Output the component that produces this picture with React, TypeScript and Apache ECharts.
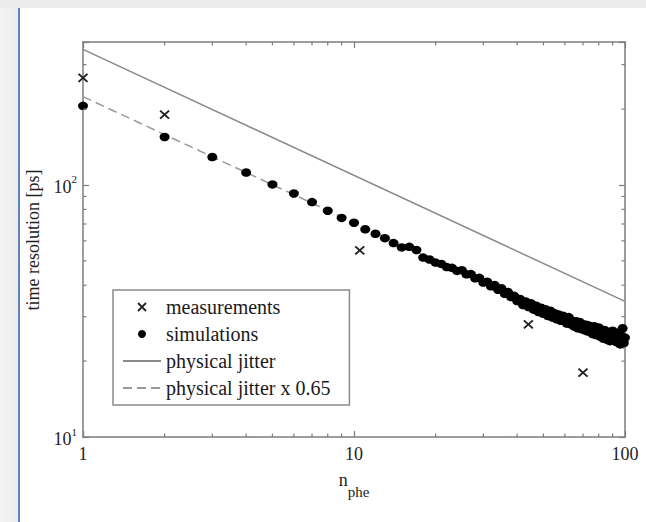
import React, { useEffect, useRef } from "react";
import * as echarts from "echarts";

// ---- data ----
const simN = [
  1, 2, 3, 4, 5, 6, 7, 8, 9, 10, 11, 12, 13, 14, 15, 16, 17, 18, 19, 20,
  21, 22, 23, 24, 25, 26, 27, 28, 29, 30, 31, 32, 33, 34, 35, 36, 37, 38, 39, 40,
  41, 42, 43, 44, 45, 46, 47, 48, 49, 50, 51, 52, 53, 54, 55, 56, 57, 58, 59, 60,
  61, 62, 63, 64, 65, 66, 67, 68, 69, 70, 71, 72, 73, 74, 75, 76, 77, 78, 79, 80,
  81, 82, 83, 84, 85, 86, 87, 88, 89, 90, 91, 92, 93, 94, 95, 96, 97, 98, 99, 100,
];
const simT = [
  206, 155, 129, 112, 100.5, 92.5, 85.5, 79, 74, 70.8, 66.7, 64, 61.5, 58.8, 56.5, 56.8, 55.2, 51.5, 50.6, 49.2,
  48.6, 47.2, 46.9, 45.6, 45.9, 44.2, 44.3, 42.6, 42.8, 41.0, 41.3, 39.6, 40.1, 38.4, 38.9, 37.0, 37.6, 35.9, 36.3, 34.6,
  35.3, 33.4, 34.5, 32.8, 33.9, 32.0, 33.2, 31.3, 32.6, 30.8, 32.1, 30.2, 31.7, 29.8, 31.0, 29.3, 30.6, 28.9, 30.3, 29.4,
  28.2, 29.9, 28.0, 28.9, 27.4, 28.8, 27.0, 28.6, 26.8, 28.0, 26.5, 27.9, 26.2, 27.6, 26.9, 25.6, 27.5, 25.4, 26.6, 27.2,
  25.0, 26.3, 24.6, 26.6, 25.4, 24.3, 26.1, 24.0, 25.5, 26.4, 24.2, 25.3, 23.8, 25.9, 24.4, 23.3, 25.2, 27.0, 23.6, 24.8,
];
const measN = [1, 2, 10.5, 44, 70];
const measT = [266, 190, 55, 28, 18];
const jitterN = [1, 100];
const jitterT = [345, 34.5];
const jitterScaledT = [224, 22.4];

const xMinorTicks = [2, 3, 4, 5, 6, 7, 8, 9, 20, 30, 40, 50, 60, 70, 80, 90];
const yMinorTicks = [20, 30, 40, 50, 60, 70, 80, 90, 200, 300];

const X_MIN = 1;
const X_MAX = 100;
const Y_MIN = 10;
const Y_MAX = 369;

const AXIS_COLOR = "#7c7c7c";
const SERIF = "'Liberation Serif', 'Times New Roman', serif";
const CROSS = "path://M0,0L10,10M10,0L0,10";

export default function App() {
  const ref = useRef<HTMLDivElement>(null);

  useEffect(() => {
    if (!ref.current) return;
    const chart = echarts.init(ref.current, null, { renderer: "svg" });

    const supLabel = (v: number) => {
      const e = Math.log10(v);
      const r = Math.round(e);
      if (Math.abs(e - r) > 1e-6) return "";
      return `{b|10}{s|${r}}`;
    };
    const plainLabel = (v: number) => {
      const e = Math.log10(v);
      const r = Math.round(e);
      if (Math.abs(e - r) > 1e-6) return "";
      return String(Math.round(v));
    };

    const axisLine = { show: true, lineStyle: { color: AXIS_COLOR, width: 1.5 } };
    const axisTick = { show: true, inside: true, length: 6, lineStyle: { color: AXIS_COLOR, width: 1.2 } };
    const tickStyle = { stroke: AXIS_COLOR, lineWidth: 1.2 };

    const option: any = {
      animation: false,
      backgroundColor: "#ffffff",
      grid: { left: 83, right: 21, top: 42, bottom: 85 },
      xAxis: [
        {
          type: "log",
          logBase: 10,
          min: X_MIN,
          max: X_MAX,
          position: "bottom",
          axisLine,
          axisTick,
          splitLine: { show: false },
          axisLabel: {
            formatter: plainLabel,
            margin: 8,
            fontFamily: SERIF,
            fontSize: 18,
            color: "#222",
          },
          name: "{n|n}{s|phe}",
          nameLocation: "middle",
          nameGap: 34,
          nameTextStyle: {
            rich: {
              n: { fontFamily: SERIF, fontSize: 18, color: "#222", verticalAlign: "top", lineHeight: 28 },
              s: { fontFamily: SERIF, fontSize: 15, color: "#222", verticalAlign: "bottom", lineHeight: 28 },
            },
          },
        },
        {
          type: "log",
          logBase: 10,
          min: X_MIN,
          max: X_MAX,
          position: "top",
          axisLine,
          axisTick,
          splitLine: { show: false },
          axisLabel: { show: false },
        },
      ],
      yAxis: [
        {
          type: "log",
          logBase: 10,
          min: Y_MIN,
          max: Y_MAX,
          position: "left",
          axisLine,
          axisTick,
          splitLine: { show: false },
          axisLabel: {
            formatter: supLabel,
            margin: 6,
            rich: {
              b: { fontFamily: SERIF, fontSize: 18, color: "#222", verticalAlign: "bottom", lineHeight: 22 },
              s: { fontFamily: SERIF, fontSize: 11, color: "#222", verticalAlign: "top", lineHeight: 22 },
            },
          },
        },
        {
          type: "log",
          logBase: 10,
          min: Y_MIN,
          max: Y_MAX,
          position: "right",
          axisLine,
          axisTick,
          splitLine: { show: false },
          axisLabel: { show: false },
        },
      ],
      legend: {
        orient: "vertical",
        left: 113,
        top: 290,
        padding: [7, 19, 7, 9],
        itemWidth: 38,
        itemHeight: 8,
        itemGap: 7,
        borderColor: "#8a8a8a",
        borderWidth: 1.5,
        backgroundColor: "#ffffff",
        textStyle: { fontFamily: SERIF, fontSize: 20, color: "#1a1a1a", lineHeight: 20 },
        data: [
          {
            name: "measurements",
            icon: CROSS,
            itemStyle: { color: "none", borderColor: "#222", borderWidth: 1.8 },
          },
          { name: "simulations", icon: "circle", itemStyle: { color: "#000", borderWidth: 0 } },
          { name: "physical jitter", itemStyle: { opacity: 0 } },
          { name: "physical jitter x 0.65", itemStyle: { opacity: 0 } },
        ],
      },
      graphic: [
        {
          type: "rect",
          shape: { x: 0, y: 0, width: 646, height: 8 },
          style: { fill: "#ececec" },
          silent: true,
        },
        {
          type: "rect",
          shape: { x: 0, y: 8, width: 18, height: 514 },
          style: {
            fill: new echarts.graphic.LinearGradient(0, 0, 1, 0, [
              { offset: 0, color: "#f4f4f4" },
              { offset: 1, color: "#ececec" },
            ]),
          },
          silent: true,
        },
        {
          type: "rect",
          shape: { x: 18, y: 8, width: 2, height: 514 },
          style: { fill: "#5f84ba" },
          silent: true,
        },
        {
          type: "text",
          x: 33,
          y: 240,
          rotation: Math.PI / 2,
          style: {
            text: "time resolution [ps]",
            fontFamily: SERIF,
            fontSize: 18,
            fill: "#222",
            align: "center",
            verticalAlign: "middle",
          },
          silent: true,
        },
      ],
      series: [
        {
          name: "physical jitter",
          type: "line",
          data: jitterN.map((n, i) => [n, jitterT[i]]),
          symbol: "none",
          lineStyle: { color: "#8a8a8a", width: 1.5 },
          itemStyle: { color: "#8a8a8a" },
          z: 2,
        },
        {
          name: "physical jitter x 0.65",
          type: "line",
          data: jitterN.map((n, i) => [n, jitterScaledT[i]]),
          symbol: "none",
          lineStyle: { color: "#999", width: 1.5, type: [9, 5] },
          itemStyle: { color: "#999" },
          z: 2,
        },
        {
          name: "simulations",
          type: "scatter",
          data: simN.map((n, i) => [n, simT[i]]),
          symbol: "circle",
          symbolSize: [10, 8.5],
          itemStyle: { color: "#000", opacity: 1 },
          z: 3,
        },
        {
          name: "measurements",
          type: "scatter",
          data: measN.map((n, i) => [n, measT[i]]),
          symbol: CROSS,
          symbolSize: [9, 8],
          itemStyle: { color: "none", borderColor: "#222", borderWidth: 1.8, opacity: 1 },
          z: 4,
        },
        {
          type: "custom",
          xAxisIndex: 0,
          yAxisIndex: 0,
          silent: true,
          data: xMinorTicks.map((v) => [v, Y_MIN]),
          renderItem: (params: any, api: any) => {
            const cs = params.coordSys;
            const x = api.coord([api.value(0), Y_MIN])[0];
            const bottom = cs.y + cs.height;
            return {
              type: "group",
              children: [
                { type: "line", shape: { x1: x, y1: bottom, x2: x, y2: bottom - 3.5 }, style: tickStyle },
                { type: "line", shape: { x1: x, y1: cs.y, x2: x, y2: cs.y + 3.5 }, style: tickStyle },
              ],
            };
          },
          z: 5,
        },
        {
          type: "custom",
          xAxisIndex: 0,
          yAxisIndex: 0,
          silent: true,
          data: yMinorTicks.map((v) => [X_MIN, v]),
          renderItem: (params: any, api: any) => {
            const cs = params.coordSys;
            const y = api.coord([X_MIN, api.value(1)])[1];
            const right = cs.x + cs.width;
            return {
              type: "group",
              children: [
                { type: "line", shape: { x1: cs.x, y1: y, x2: cs.x + 3.5, y2: y }, style: tickStyle },
                { type: "line", shape: { x1: right, y1: y, x2: right - 3.5, y2: y }, style: tickStyle },
              ],
            };
          },
          z: 5,
        },
      ],
    };

    chart.setOption(option);
    return () => {
      chart.dispose();
    };
  }, []);

  return (
    <div
      ref={ref}
      style={{ position: "absolute", left: 0, top: 0, width: 646, height: 522, background: "#fff" }}
    />
  );
}
